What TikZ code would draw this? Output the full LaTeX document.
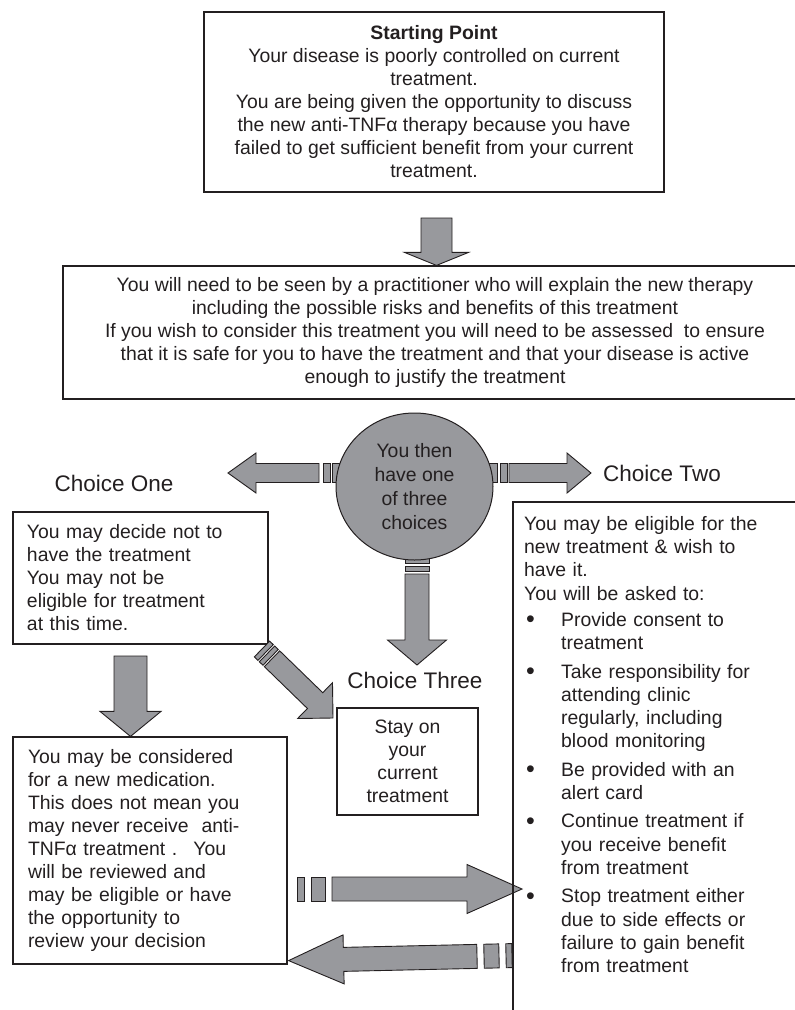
\documentclass[tikz,border=0pt]{standalone}
\usepackage{fontspec}
\setmainfont{Liberation Sans}
\usetikzlibrary{calc,shapes.geometric}

\definecolor{ink}{RGB}{35,31,32}
\definecolor{arrowgrey}{RGB}{152,153,157}

% one stripe of a striped tail: from #1 towards #2, between #3 and #4, half width #5
\newcommand{\band}[5]{%
  \path ($(#1)!#3pt!(#2)$) coordinate (bandS) ($(#1)!#4pt!(#2)$) coordinate (bandE);
  \draw[arrowbody] ($(bandS)!#5pt!90:(#2)$) -- ($(bandE)!#5pt!90:(#2)$) -- ($(bandE)!#5pt!-90:(#2)$) -- ($(bandS)!#5pt!-90:(#2)$) -- cycle;}
% block arrow: from #1 (shaft starts #3 along) to tip #2, shaft half #4, head half #5, head length #6
\newcommand{\fatarrow}[6]{%
  \path ($(#1)!#3pt!(#2)$) coordinate (shaftS) ($(#2)!#6pt!(#1)$) coordinate (shaftE);
  \draw[arrowbody] ($(shaftS)!#4pt!90:(#2)$) -- ($(shaftE)!#4pt!90:(#2)$) -- ($(shaftE)!#5pt!90:(#2)$) -- (#2) -- ($(shaftE)!#5pt!-90:(#2)$) -- ($(shaftE)!#4pt!-90:(#2)$) -- ($(shaftS)!#4pt!-90:(#2)$) -- cycle;}
\newcommand{\bul}{\makebox[37pt][l]{\hspace{2pt}\raisebox{-1.5pt}{\fontsize{25}{23}\selectfont\textbullet}}}
\newcommand{\ind}{\hspace*{37pt}}

\begin{document}
\begin{tikzpicture}[x=1pt, y=-1pt,
    every node/.style={text=ink, font=\fontsize{19.4}{23}\selectfont},
    infobox/.style={draw=ink, line width=1.2pt, inner sep=0pt, align=center},
    leftbox/.style={draw=ink, line width=1.2pt, inner ysep=0pt, align=left},
    choicelabel/.style={font=\fontsize{22.5}{27}\selectfont},
    arrowbody/.style={draw=ink, fill=arrowgrey, line width=0.9pt}]
    \useasboundingbox (0,0) rectangle (795,1010);
    \clip (0,0) rectangle (795,1010);

    \node[infobox, minimum width=460pt, minimum height=180pt] (start) at (434,102)
        {\textbf{Starting Point}\\Your disease is poorly controlled on current\\treatment.\\You are being given the opportunity to discuss\\the new anti-TNFα therapy because you have\\failed to get sufficient benefit from your current\\treatment.};
    \node[infobox, minimum width=744pt, minimum height=133pt] (assess) at (435,332.5)
        {You will need to be seen by a practitioner who will explain the new therapy\\including the possible risks and benefits of this treatment\\If you wish to consider this treatment you will need to be assessed~ to ensure\\that it is safe for you to have the treatment and that your disease is active\\enough to justify the treatment};

    \node[choicelabel] (oneLabel) at (114,483) {Choice One};
    \node[choicelabel] (twoLabel) at (662,473) {Choice Two};
    \node[choicelabel] (threeLabel) at (415,680) {Choice Three};

    \node[leftbox, minimum width=255pt, minimum height=132pt, text width=227pt, inner xsep=14pt] (declineBox) at (140.5,578)
        {You may decide not to\\have the treatment\\You may not be\\eligible for treatment\\at this time.};
    \node[leftbox, minimum width=274pt, minimum height=227pt, text width=244pt, inner xsep=15pt] (newmedBox) at (150,850.5)
        {You may be considered\\for a new medication.\\This does not mean you\\may never receive~ anti-\\TNFα treatment .~ You\\will be reviewed and\\may be eligible or have\\the opportunity to\\review your decision};
    \node[infobox, minimum width=141pt, minimum height=107pt] (stayBox) at (407.5,761.5)
        {Stay on\\your\\current\\treatment};
    \node[anchor=north west, inner xsep=11pt, inner ysep=14pt, text width=272pt, align=left, font=\fontsize{19.4}{23.3}\selectfont] (eligibleBox) at (513,502)
        {You may be eligible for the\\new treatment \& wish to\\have it.\\You will be asked to:\\[3pt]
         \bul Provide consent to\\\ind treatment\\[5pt]
         \bul Take responsibility for\\\ind attending clinic\\\ind regularly, including\\\ind blood monitoring\\[5pt]
         \bul Be provided with an\\\ind alert card\\[5pt]
         \bul Continue treatment if\\\ind you receive benefit\\\ind from treatment\\[5pt]
         \bul Stop treatment either\\\ind due to side effects or\\\ind failure to gain benefit\\\ind from treatment};

    \coordinate (topTail) at (436.5,218);
    \coordinate (topTip) at (topTail |- assess.north);
    \coordinate (oneTail) at (342,473);
    \coordinate (oneTip) at (228,473);
    \coordinate (twoTail) at (488,473);
    \coordinate (twoTip) at (591,473);
    \coordinate (threeTail) at (417,556);
    \coordinate (threeTip) at (417,665);
    \coordinate (diagTail) at (262,649);
    \coordinate (diagTip) at (333,718);
    \coordinate (declTail) at (130.5,656);
    \coordinate (declTip) at (declTail |- newmedBox.north);
    \coordinate (backTail) at (297,889);
    \coordinate (backTip) at (522,889);
    \coordinate (retTail) at (512,955.6);
    \coordinate (retTip) at ($(newmedBox.south east)+(1,-4)$);

    % arrows out of the hub, striped tails under it
    \band{oneTail}{oneTip}{0}{10}{9.5}
    \band{oneTail}{oneTip}{12}{19}{9.5}
    \fatarrow{oneTail}{oneTip}{23}{9.5}{20}{28}
    \band{twoTail}{twoTip}{0}{9}{9.5}
    \band{twoTail}{twoTip}{12}{19}{9.5}
    \fatarrow{twoTail}{twoTip}{21}{9.5}{20}{24}
    \band{threeTail}{threeTip}{0}{7}{12}
    \band{threeTail}{threeTip}{10}{15}{12}
    \fatarrow{threeTail}{threeTip}{18}{12}{29.5}{25}

    \node[ellipse, draw=ink, fill=arrowgrey, line width=1pt, minimum width=157pt, minimum height=147pt, inner sep=0pt, align=center, font=\fontsize{19.4}{24}\selectfont] (hub) at (414.5,486.5)
        {You then\\have one\\of three\\choices};

    \fatarrow{topTail}{topTip}{0}{15.5}{32}{13}
    \band{diagTail}{diagTip}{0}{5}{11}
    \band{diagTail}{diagTip}{7}{12}{11}
    \fatarrow{diagTail}{diagTip}{14}{11}{25}{25}
    \fatarrow{declTail}{declTip}{0}{16.5}{30.5}{25}
    \band{backTail}{backTip}{0}{7}{12}
    \band{backTail}{backTip}{14}{28}{12}
    \fatarrow{backTail}{backTip}{35}{12}{24.5}{55}
    \band{retTail}{retTip}{0}{6}{12}
    \band{retTail}{retTip}{13}{28}{12}
    \fatarrow{retTail}{retTip}{35}{12}{24.5}{55}

    % frame of the right box runs off the page
    \draw[draw=ink, line width=1.2pt] (eligibleBox.north west) rectangle ++(300,520);
\end{tikzpicture}
\end{document}
